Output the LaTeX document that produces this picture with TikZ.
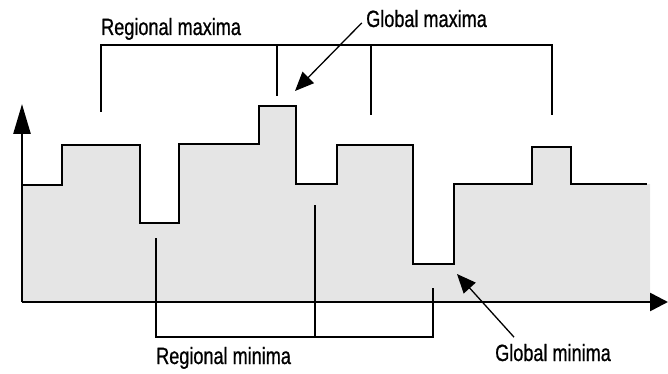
\documentclass[tikz,border=0pt]{standalone}
\usepackage{fontspec}
\setmainfont{Liberation Sans}[FakeStretch=0.77,FakeBold=0.8]
\usetikzlibrary{arrows.meta}
\tikzset{
  thick line/.style={line width=2.6pt},
  pointer/.style={line width=1.3pt,-{Triangle[length=19pt,width=16pt]},shorten <=6pt},
  label text/.style={inner sep=0pt,font=\fontsize{23.5}{26}\selectfont}
}
\begin{document}
\begin{tikzpicture}[x=1pt,y=-1pt]
  \useasboundingbox (0,0) rectangle (668,374);
  % area under the profile
  \fill [black!10] (22,302) -- (22,185) -- (62,185) -- (62,145) -- (140,145) -- (140,223) -- (179,223) -- (179,144) -- (259,144) -- (259,106) -- (296,106) -- (296,184) -- (337,184) -- (337,145) -- (413,145) -- (413,264) -- (454,264) -- (454,184) -- (532,184) -- (532,147) -- (571,147) -- (571,184) -- (650,184) -- (650,302) -- cycle;
  % axes
  \draw [thick line,-{Triangle[length=30pt,width=17pt]}] (22,302) -- (22,104);
  \draw [thick line,-{Triangle[length=18pt,width=18pt]}] (22,302) -- (668,302);
  % profile
  \draw [thick line] (22,185) -- (62,185) -- (62,145) -- (140,145) -- (140,223) -- (179,223) -- (179,144) -- (259,144) -- (259,106) -- (296,106) -- (296,184) -- (337,184) -- (337,145) -- (413,145) -- (413,264) -- (454,264) -- (454,184) -- (532,184) -- (532,147) -- (571,147) -- (571,184) -- (647,184);
  % maxima bracket
  \draw [thick line] (101,112) -- (101,45) -- (552,45) -- (552,115);
  \draw [thick line] (277,45) -- (277,96);
  \draw [thick line] (371,45) -- (371,115);
  % minima bracket
  \draw [thick line] (156,238) -- (156,337) -- (433,337) -- (433,288);
  \draw [thick line] (315,205) -- (315,337);
  % labels
  \node [label text,anchor=base west] (regmax) at (101,35) {Regional maxima};
  \node [label text,anchor=base west] (globmax) at (366,27) {Global maxima};
  \node [label text,anchor=base west] (regmin) at (156,364) {Regional minima};
  \node [label text,anchor=base west] (globmin) at (495,361) {Global minima};
  % pointers
  \coordinate (gmaxtip) at (295,91);
  \coordinate (gmintip) at (457,274);
  \draw [pointer] (globmax.west) -- (gmaxtip);
  \draw [pointer,shorten <=9pt] ([xshift=25pt]globmin.north west) -- (gmintip);
\end{tikzpicture}
\end{document}
